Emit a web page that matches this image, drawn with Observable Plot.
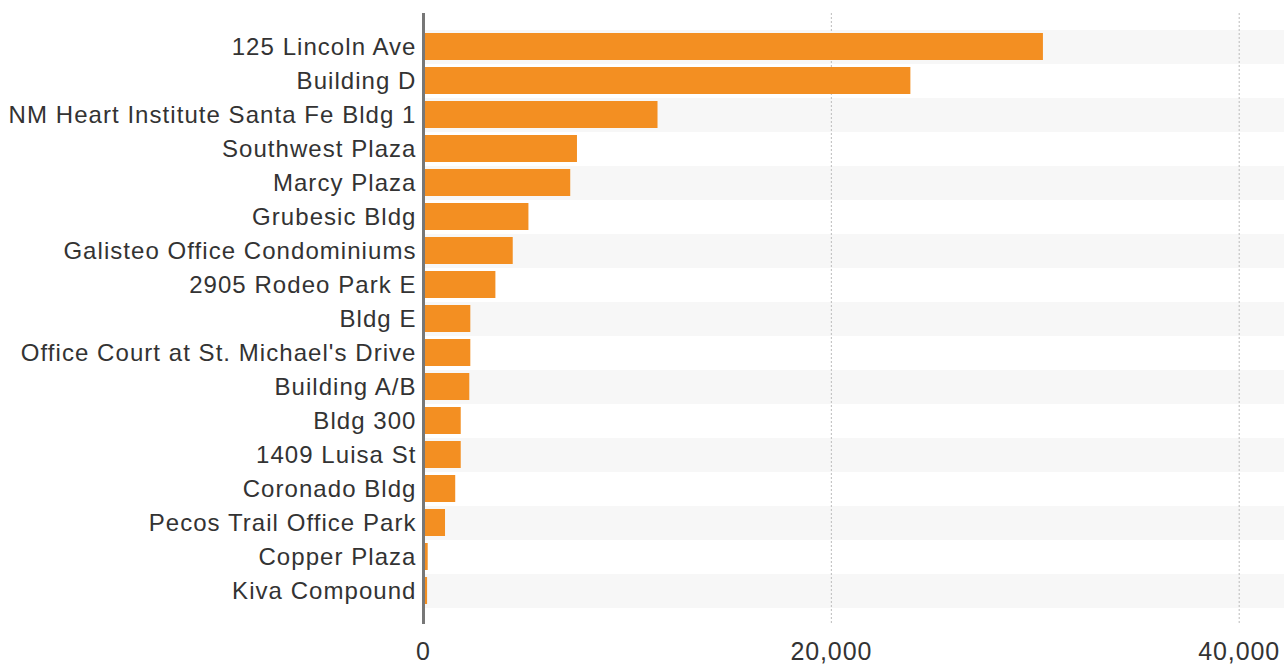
<!DOCTYPE html>
<html>
<head>
<meta charset="utf-8">
<script src="https://cdn.jsdelivr.net/npm/d3@7"></script>
<script src="https://cdn.jsdelivr.net/npm/@observablehq/plot@0.6"></script>
<style>
  html, body { margin: 0; padding: 0; background: #fff; }
  #chart { width: 1284px; height: 666px; overflow: hidden; }
  #chart g[aria-label="y-axis tick label"] text { letter-spacing: 1.05px; }
  #chart g[aria-label="x-axis tick label"] text { letter-spacing: 0.9px; }
</style>
</head>
<body>
<div id="chart"></div>
<script>
const names = [
  "125 Lincoln Ave",
  "Building D",
  "NM Heart Institute Santa Fe Bldg 1",
  "Southwest Plaza",
  "Marcy Plaza",
  "Grubesic Bldg",
  "Galisteo Office Condominiums",
  "2905 Rodeo Park E",
  "Bldg E",
  "Office Court at St. Michael's Drive",
  "Building A/B",
  "Bldg 300",
  "1409 Luisa St",
  "Coronado Bldg",
  "Pecos Trail Office Park",
  "Copper Plaza",
  "Kiva Compound"
];
const values = [30400, 23900, 11500, 7550, 7220, 5170, 4400, 3550, 2320, 2320, 2270, 1850, 1850, 1580, 1080, 230, 200];
const xTicks = [0, 20000, 40000];

const data = names.map((name, i) => ({name, value: values[i]}));
const stripeRows = names.filter((_, i) => i % 2 === 0);

const chart = Plot.plot({
  width: 1284,
  height: 666,
  marginLeft: 423,
  marginRight: 0,
  marginTop: 13,
  marginBottom: 42,
  style: {fontFamily: "'Liberation Sans', Arial, sans-serif", background: "#fff", color: "#333"},
  x: {domain: [0, 42222]},
  y: {domain: names, range: [30, 608], padding: 0},
  marks: [
    Plot.cell(stripeRows, {y: d => d, fill: "#f7f7f7", inset: 0}),
    Plot.ruleX(xTicks.slice(1), {stroke: "#bbb", strokeDasharray: "2,2", strokeWidth: 1}),
    Plot.barX(data, {x: "value", y: "name", fill: "#f38f22", insetTop: 3, insetBottom: 4}),
    Plot.ruleX([0], {stroke: "#777", strokeWidth: 3}),
    Plot.axisY({tickSize: 0, tickPadding: 7, fontSize: 24, fill: "#333", label: null}),
    Plot.axisX({ticks: xTicks, tickSize: 0, tickPadding: 18, fontSize: 25, fill: "#333", label: null, tickFormat: d3.format(",")})
  ]
});
document.getElementById("chart").appendChild(chart);
</script>
</body>
</html>
